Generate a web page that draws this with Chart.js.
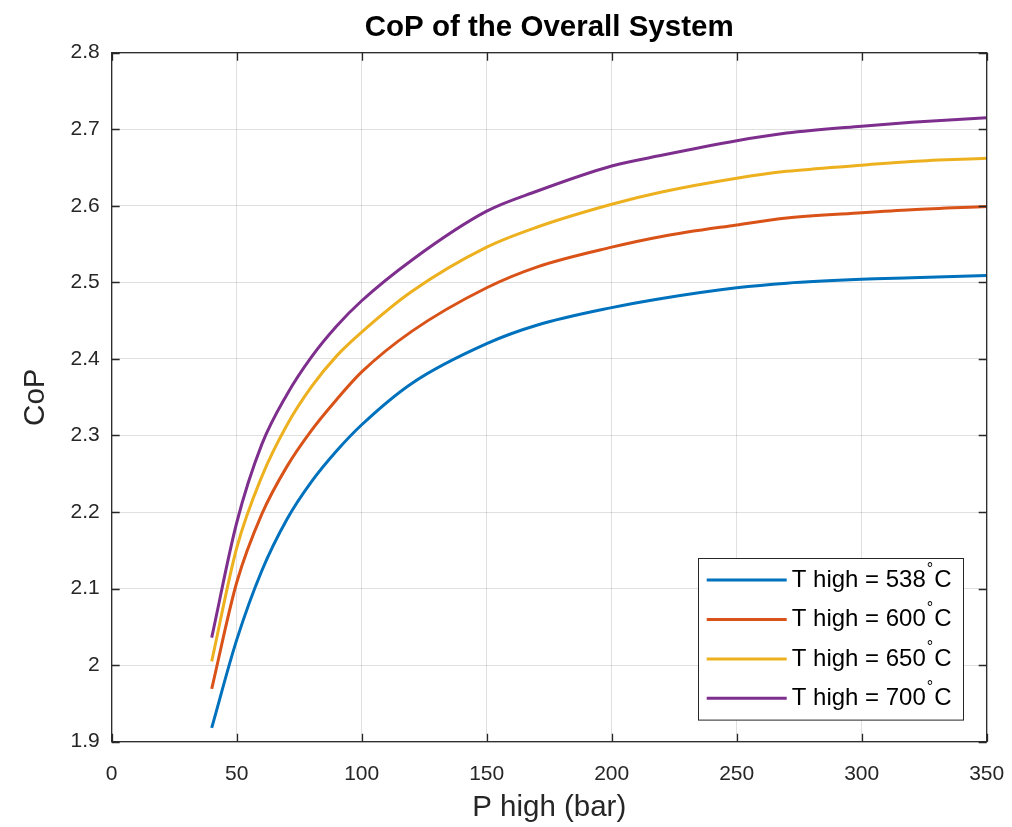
<!DOCTYPE html>
<html>
<head>
<meta charset="utf-8">
<script src="https://cdn.jsdelivr.net/npm/chart.js@4.4.1/dist/chart.umd.min.js"></script>
<style>
    body { margin: 0; background: #ffffff; }
    #chart { display: block; }
</style>
</head>
<body>
<canvas id="chart" width="1012" height="827"></canvas>
<script>
// values
const pressure = [40, 50, 60, 70, 80, 90, 100, 120, 150, 170, 200, 220, 250, 270, 300, 320, 350];
const cop538 = [1.918, 2.033, 2.123, 2.190, 2.240, 2.280, 2.314, 2.368, 2.420, 2.444, 2.467, 2.479, 2.493, 2.499, 2.504, 2.506, 2.509];
const cop600 = [1.969, 2.108, 2.197, 2.259, 2.307, 2.347, 2.383, 2.436, 2.493, 2.520, 2.546, 2.560, 2.575, 2.584, 2.591, 2.595, 2.599];
const cop650 = [2.005, 2.153, 2.246, 2.313, 2.364, 2.404, 2.435, 2.488, 2.546, 2.572, 2.602, 2.618, 2.636, 2.645, 2.653, 2.658, 2.662];
const cop700 = [2.036, 2.186, 2.288, 2.353, 2.403, 2.443, 2.476, 2.529, 2.593, 2.619, 2.652, 2.666, 2.685, 2.695, 2.704, 2.709, 2.715];

const seriesLabels = ["T high = 538°C", "T high = 600°C", "T high = 650°C", "T high = 700°C"];
const seriesColors = ["#0072BD", "#D95319", "#EDB120", "#7E2F8E"];

const xTicks = [0, 50, 100, 150, 200, 250, 300, 350];
const yTicks = [1.9, 2.0, 2.1, 2.2, 2.3, 2.4, 2.5, 2.6, 2.7, 2.8];

const chartTitle = "CoP of the Overall System";

const FONT = "'Liberation Sans', Arial, Helvetica, sans-serif";
const AXIS = "#262626";

function toPoints(values) {
    return pressure.map((p, i) => ({ x: p, y: values[i] }));
}

// title over the axes, box round the axes, inward tick marks and the legend box
const framePlugin = {
    id: "frame",
    afterDraw(chart) {
        const ctx = chart.ctx;
        const a = chart.chartArea;
        const x = chart.scales.x;
        const y = chart.scales.y;
        ctx.save();

        ctx.fillStyle = "#000000";
        ctx.font = "bold 29.5px " + FONT;
        ctx.textAlign = "center";
        ctx.textBaseline = "middle";
        ctx.fillText(chartTitle, (a.left + a.right) / 2, 28);

        ctx.strokeStyle = AXIS;
        ctx.lineWidth = 1.3;
        ctx.strokeRect(a.left, a.top, a.right - a.left, a.bottom - a.top);

        ctx.beginPath();
        x.ticks.forEach(t => {
            const px = Math.round(x.getPixelForValue(t.value)) + 0.5;
            ctx.moveTo(px, a.bottom); ctx.lineTo(px, a.bottom - 8);
            ctx.moveTo(px, a.top); ctx.lineTo(px, a.top + 8);
        });
        y.ticks.forEach(t => {
            const py = Math.round(y.getPixelForValue(t.value)) + 0.5;
            ctx.moveTo(a.left, py); ctx.lineTo(a.left + 8, py);
            ctx.moveTo(a.right, py); ctx.lineTo(a.right - 8, py);
        });
        ctx.stroke();

        // legend
        const sets = chart.data.datasets;
        const rowH = 39.4;
        const boxW = 265;
        const boxH = 21.7 * 2 + rowH * (sets.length - 1);
        const boxL = a.right - 23.4 - boxW;
        const boxT = a.bottom - 21.7 - boxH;
        ctx.fillStyle = "#ffffff";
        ctx.fillRect(boxL, boxT, boxW, boxH);
        ctx.strokeStyle = AXIS;
        ctx.lineWidth = 1;
        ctx.strokeRect(Math.round(boxL) + 0.5, Math.round(boxT) + 0.5, boxW, boxH);

        sets.forEach((ds, i) => {
            const ry = boxT + 21.7 + i * rowH;
            ctx.strokeStyle = ds.borderColor;
            ctx.lineWidth = 3;
            ctx.beginPath();
            ctx.moveTo(boxL + 8.4, ry);
            ctx.lineTo(boxL + 88.4, ry);
            ctx.stroke();

            const parts = ds.label.split("°");
            let tx = boxL + 93.4;
            ctx.fillStyle = "#000000";
            ctx.textBaseline = "middle";
            ctx.textAlign = "left";
            ctx.font = "24px " + FONT;
            ctx.fillText(parts[0], tx, ry);
            tx += ctx.measureText(parts[0]).width + 1;
            ctx.font = "16px " + FONT;
            ctx.fillText("°", tx, ry - 11);
            tx += ctx.measureText("°").width + 1;
            ctx.font = "24px " + FONT;
            ctx.fillText(parts[1] || "", tx, ry);
        });
        ctx.restore();
    }
};

new Chart(document.getElementById("chart").getContext("2d"), {
    type: "line",
    data: {
        datasets: [
            { label: seriesLabels[0], data: toPoints(cop538), borderColor: seriesColors[0] },
            { label: seriesLabels[1], data: toPoints(cop600), borderColor: seriesColors[1] },
            { label: seriesLabels[2], data: toPoints(cop650), borderColor: seriesColors[2] },
            { label: seriesLabels[3], data: toPoints(cop700), borderColor: seriesColors[3] }
        ]
    },
    options: {
        responsive: false,
        animation: false,
        devicePixelRatio: 1,
        layout: { padding: { left: 0, right: 25.3, top: 52.7, bottom: 0 } },
        elements: {
            point: { radius: 0 },
            line: { borderWidth: 3, tension: 0, cubicInterpolationMode: "monotone", fill: false }
        },
        plugins: {
            legend: { display: false },
            tooltip: { enabled: false },
            title: { display: false }
        },
        scales: {
            x: {
                type: "linear",
                min: 0,
                max: 350,
                afterBuildTicks: s => { s.ticks = xTicks.map(v => ({ value: v })); },
                afterFit: s => { s.height = 85.3; s.paddingLeft = 0; s.paddingRight = 0; },
                grid: { color: "rgba(0,0,0,0.12)", drawTicks: false },
                border: { display: false },
                ticks: { color: AXIS, padding: 20, font: { family: FONT, size: 21 } },
                title: {
                    display: true,
                    text: "P high (bar)",
                    color: AXIS,
                    font: { family: FONT, size: 29.5, lineHeight: 1.2 },
                    padding: { top: 0, bottom: 1 }
                }
            },
            y: {
                type: "linear",
                min: 1.9,
                max: 2.8,
                afterBuildTicks: s => { s.ticks = yTicks.map(v => ({ value: v })); },
                afterFit: s => { s.width = 111.7; s.paddingTop = 0; s.paddingBottom = 0; },
                grid: { color: "rgba(0,0,0,0.12)", drawTicks: false },
                border: { display: false },
                ticks: {
                    color: AXIS,
                    padding: 12,
                    font: { family: FONT, size: 21 },
                    callback: v => String(+v.toFixed(1))
                },
                title: {
                    display: true,
                    text: "CoP",
                    color: AXIS,
                    font: { family: FONT, size: 29.5, lineHeight: 1.2 },
                    padding: { top: 18 }
                }
            }
        }
    },
    plugins: [framePlugin]
});
</script>
</body>
</html>
